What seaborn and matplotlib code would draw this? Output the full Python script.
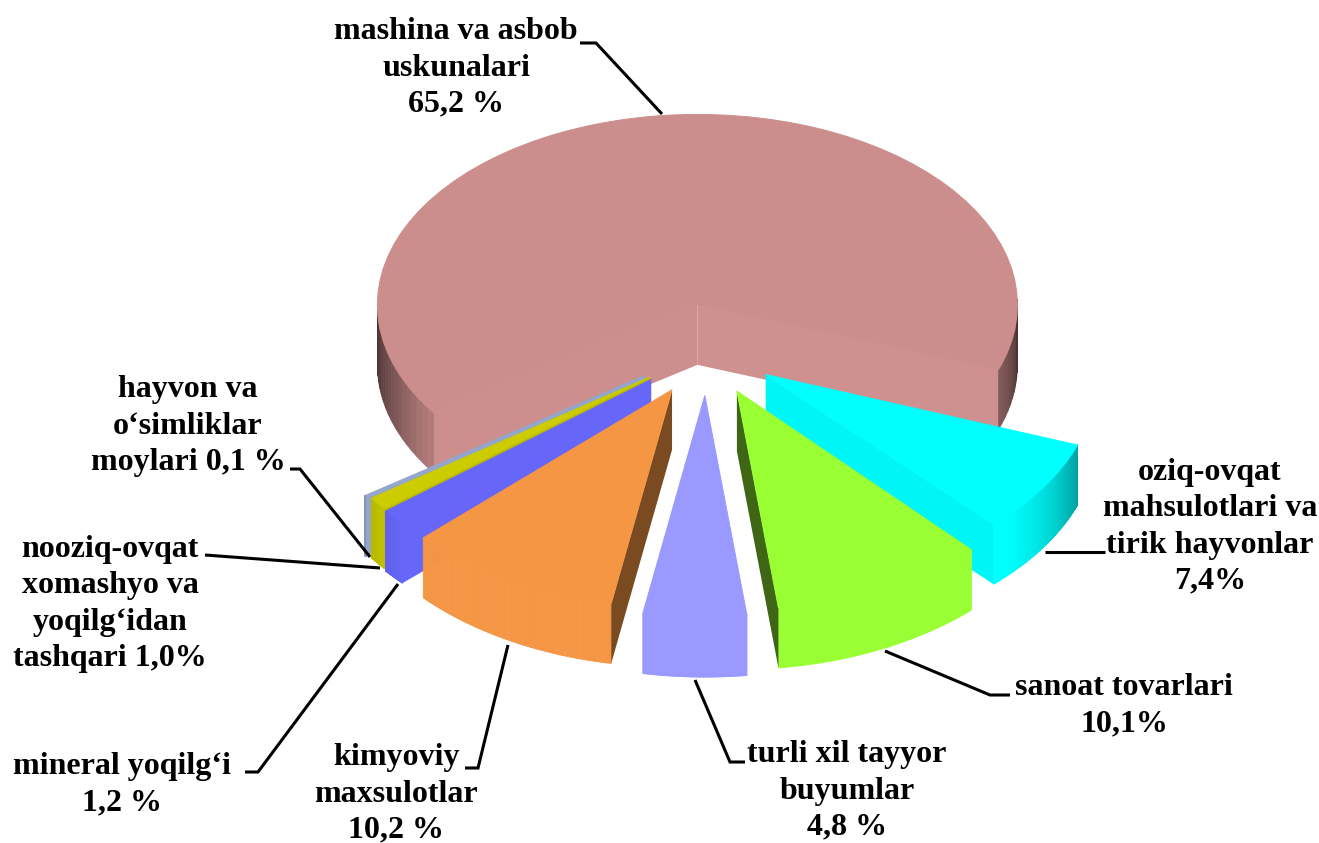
import numpy as np
import matplotlib
matplotlib.use("Agg")
import matplotlib.pyplot as plt
import seaborn as sns
from matplotlib.colors import to_rgb
from matplotlib.collections import PolyCollection
from matplotlib.transforms import Affine2D

sns.set_theme(style="white")
plt.rcParams["font.family"] = ["Liberation Serif", "DejaVu Serif"]

# chart values
names = ["mashina va asbob\nuskunalari\n65,2 %",
         "oziq-ovqat\nmahsulotlari va\ntirik hayvonlar\n7,4%",
         "sanoat tovarlari\n10,1%",
         "turli xil tayyor\nbuyumlar\n4,8 %",
         "kimyoviy\nmaxsulotlar\n10,2 %",
         "mineral yoqilg‘i\n1,2 %",
         "nooziq-ovqat\nxomashyo va\nyoqilg‘idan\ntashqari 1,0%",
         "hayvon va\no‘simliklar\nmoylari 0,1 %"]
shares = [65.2, 7.4, 10.1, 4.8, 10.2, 1.2, 1.0, 0.1]

top_colors = ["#CC8E8C", "#00FFFF", "#99FF33", "#9999FF", "#F59645", "#6666F8", "#CCCC00", "#93A6CC"]
low_face = ["#CE918F", "#00F6F6", "#3E6614", "#9999FF", "#F59645", "#6666F8", "#BDBA00", "#93A6CC"]
high_face = ["#CD8F8D", "#00FFFF", "#99FF33", "#9999FF", "#7A4A20", "#6666F8", "#BDBA00", "#93A6CC"]

# slice by slice fit of the perspective the original has
radii = [320, 332, 342, 347, 340, 340, 340, 340]
y_scale = [0.96, 1, 1.03, 1.03, 1.03, 1, 1, 1]
x_nudge = [4, 0, 2, 4, 5, 5, 7, 3]
y_nudge = [2, 0, 0, 0, 0, 0, 0, 0]
draw_order = [0, 7, 6, 5, 1, 2, 4, 3]

W, H = 1319, 843
CX, CY = 703, 349   # pie centre in pixels
K = 0.62            # squash of the tilted disc
DEPTH = 60 / K


def side_shade(theta):
    a = np.abs((theta % 360) - 270)
    return np.interp(a, [47, 55, 60, 70, 88, 110], [1, 0.9, 0.83, 0.64, 0.36, 0.28])


fig = plt.figure(figsize=(W / 100, H / 100), dpi=100)
ax = fig.add_axes([0, 0, 1, 1])
wedges, _ = ax.pie(shares, explode=[75] * 8, startangle=214.7, counterclock=False,
                   colors=top_colors, center=(CX, 0), radius=330,
                   wedgeprops={"linewidth": 0.7})
ax.set_aspect("auto")
ax.set_xlim(0, W)
ax.set_ylim(-(H - CY) / K, CY / K)
ax.axis("off")

for z, i in enumerate(draw_order):
    w = wedges[i]
    x0 = w.center[0] + x_nudge[i]
    y0 = w.center[1] - y_nudge[i] / K
    r = radii[i]
    w.set_center((x0, y0))
    w.set_radius(r)
    w.set_edgecolor(top_colors[i])
    w.set_transform(Affine2D().translate(-x0, -y0).scale(1, y_scale[i]).translate(x0, y0) + ax.transData)
    w.set_zorder(z * 3 + 2.5)

    t = np.radians(np.linspace(w.theta1, w.theta2, 120))
    px, py = x0 + r * np.cos(t), y0 + r * y_scale[i] * np.sin(t)
    # the back half of the rim is hidden by the top, so leave it out
    quads = [[(px[j], py[j]), (px[j + 1], py[j + 1]), (px[j + 1], py[j + 1] - DEPTH), (px[j], py[j] - DEPTH)]
             for j in range(len(t) - 1) if np.sin(t[j]) < 0.01]
    shade = [side_shade(np.degrees(t[j])) for j in range(len(t) - 1) if np.sin(t[j]) < 0.01]
    base = np.array(to_rgb(top_colors[i]))
    cols = [tuple(base * s) for s in shade]
    ax.add_collection(PolyCollection(quads, facecolors=cols, edgecolors=cols, linewidths=0.6, zorder=z * 3 + 1))

    # cut faces, only the ones turned towards the viewer
    if np.sin(np.radians(w.theta1 - 90)) < 0:
        ax.fill([x0, px[0], px[0], x0], [y0, py[0], py[0] - DEPTH, y0 - DEPTH],
                color=low_face[i], lw=0, zorder=z * 3 + 2)
    if np.sin(np.radians(w.theta2 + 90)) < 0:
        ax.fill([x0, px[-1], px[-1], x0], [y0, py[-1], py[-1] - DEPTH, y0 - DEPTH],
                color=high_face[i], lw=0, zorder=z * 3 + 2)

# overlay in pixel units for labels and leader lines
ov = fig.add_axes([0, 0, 1, 1], facecolor="none")
ov.set_xlim(0, W)
ov.set_ylim(H, 0)
ov.axis("off")

label_pos = [(456, 68), (1210, 527), (1124, 706), (847, 791), (396, 794), (122, 785), (110, 604), (188, 426)]
leaders = [[(580, 43), (596, 43), (662, 114)],
           [(1045, 552), (1105, 552)],
           [(885, 651), (990, 695), (1010, 695)],
           [(695, 680), (730, 762), (745, 762)],
           [(508, 645), (478, 768), (465, 768)],
           [(398, 584), (258, 772), (245, 772)],
           [(205, 555), (380, 568)],
           [(290, 469), (300, 469), (370, 557)]]

for name, (tx, ty), line in zip(names, label_pos, leaders):
    ov.text(tx, ty, name, ha="center", va="center", fontsize=23, fontweight="bold",
            color="black", linespacing=1.32)
    xs, ys = zip(*line)
    ov.plot(xs, ys, color="black", lw=2.2, solid_capstyle="butt", solid_joinstyle="miter")

fig.savefig("out.png", dpi=100, facecolor="white")
